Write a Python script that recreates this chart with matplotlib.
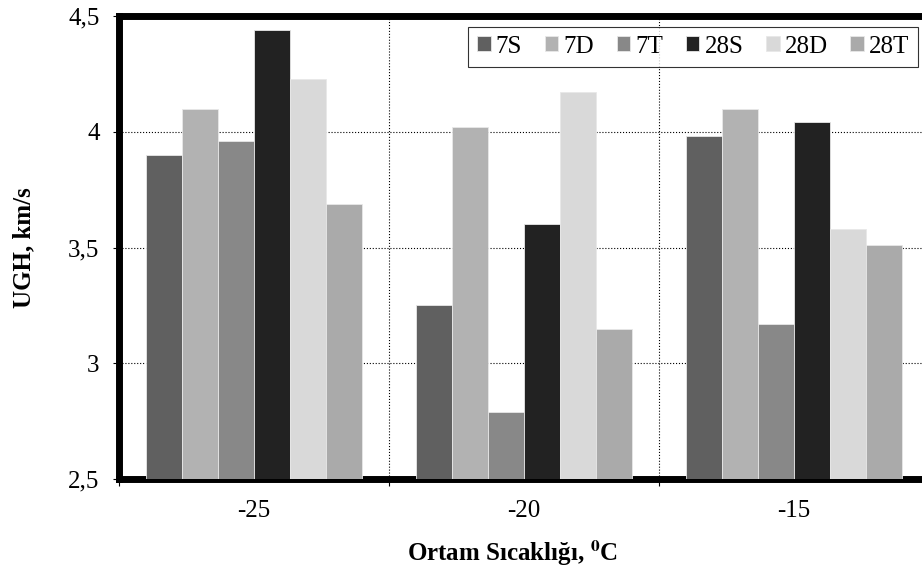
import numpy as np
import matplotlib.pyplot as plt
from matplotlib.ticker import FixedLocator

# data
temps = ["-25", "-20", "-15"]
series = ["7S", "7D", "7T", "28S", "28D", "28T"]
v_7S = [3.90, 3.25, 3.98]
v_7D = [4.10, 4.02, 4.10]
v_7T = [3.96, 2.79, 3.17]
v_28S = [4.44, 3.60, 4.04]
v_28D = [4.23, 4.17, 3.58]
v_28T = [3.69, 3.15, 3.51]
colors = ["#606060", "#b2b2b2", "#888888", "#222222", "#d9d9d9", "#aaaaaa"]

values = [v_7S, v_7D, v_7T, v_28S, v_28D, v_28T]

plt.rcParams["font.family"] = ["Liberation Serif", "DejaVu Serif"]
plt.rcParams["mathtext.fontset"] = "stix"

fig = plt.figure(figsize=(9.22, 5.78), dpi=100)
ax = fig.add_axes([119 / 922, 99 / 578, 810 / 922, 463 / 578])

x = np.arange(len(temps))
w = 0.8 / len(series)
for i, (name, vals) in enumerate(zip(series, values)):
    ax.bar(x - 0.4 + w * (i + 0.5), np.array(vals) - 2.5, w, bottom=2.5,
           color=colors[i], edgecolor="#e8e8e8", linewidth=0.6, label=name, zorder=3)

ax.set_xlim(-0.5, 2.5)
ax.set_ylim(2.5, 4.5)
ax.set_yticks([2.5, 3, 3.5, 4, 4.5])
ax.set_yticklabels(["2,5", "3", "3,5", "4", "4,5"])
ax.set_xticks(x)
ax.set_xticklabels(temps)
ax.xaxis.set_minor_locator(FixedLocator([-0.5, 0.5, 1.5]))
ax.tick_params(axis="x", which="major", length=0, pad=15, labelsize=18)
ax.tick_params(axis="x", which="minor", length=5, width=0.8, direction="out")
ax.tick_params(axis="y", length=4, width=0.8, pad=10, labelsize=18)

ax.grid(True, axis="y", which="major", linestyle=":", color="black", linewidth=0.8, zorder=0)
ax.grid(True, axis="x", which="minor", linestyle=":", color="black", linewidth=0.8, zorder=0)
ax.set_axisbelow(True)

for s in ["left", "top", "bottom"]:
    ax.spines[s].set_linewidth(5)
    ax.spines[s].set_color("black")
ax.spines["right"].set_visible(False)
ax.spines["bottom"].set_zorder(2)

ax.set_ylabel("UGH, km/s", fontsize=18, fontweight="bold")
ax.yaxis.set_label_coords(-0.103, 0.5)
ax.set_xlabel(r"Ortam Sıcaklığı, $^{\mathbf{0}}$C", fontsize=18, fontweight="bold")
ax.xaxis.set_label_coords(0.486, -0.128)

leg = ax.legend(ncol=6, loc="upper right", bbox_to_anchor=(918 / 922, (578 - 27) / 578),
                bbox_transform=fig.transFigure, fontsize=18, frameon=True, fancybox=False,
                handlelength=0.55, handleheight=0.55, handletextpad=0.2, columnspacing=0.9,
                borderpad=0.35, borderaxespad=0)
leg.get_frame().set_edgecolor("black")
leg.get_frame().set_linewidth(0.8)

fig.savefig("out.png", dpi=100)
